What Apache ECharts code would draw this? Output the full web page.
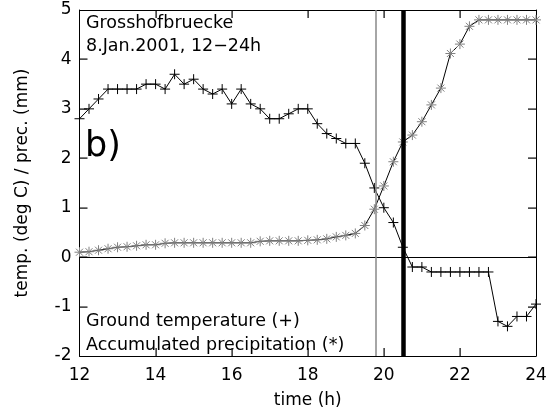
<!DOCTYPE html>
<html>
<head>
<meta charset="utf-8">
<script src="https://cdn.jsdelivr.net/npm/echarts@6/dist/echarts.min.js"></script>
<style>html,body{margin:0;padding:0;background:#fff;}#c{width:554px;height:414px;}</style>
</head>
<body>
<div id="c"></div>
<script>
var times = [12.00,12.25,12.50,12.75,13.00,13.25,13.50,13.75,14.00,14.25,14.50,14.75,15.00,15.25,15.50,15.75,16.00,16.25,16.50,16.75,17.00,17.25,17.50,17.75,18.00,18.25,18.50,18.75,19.00,19.25,19.50,19.75,20.00,20.25,20.50,20.75,21.00,21.25,21.50,21.75,22.00,22.25,22.50,22.75,23.00,23.25,23.50,23.75,24.00];
var groundTemp = [2.8,3.0,3.2,3.4,3.4,3.4,3.4,3.5,3.5,3.4,3.7,3.5,3.6,3.4,3.3,3.4,3.1,3.4,3.1,3.0,2.8,2.8,2.9,3.0,3.0,2.7,2.5,2.4,2.3,2.3,1.9,1.4,1.0,0.7,0.2,-0.2,-0.2,-0.3,-0.3,-0.3,-0.3,-0.3,-0.3,-0.3,-1.3,-1.4,-1.2,-1.2,-0.95];
var accPrecip = [0.10,0.11,0.14,0.17,0.20,0.21,0.23,0.25,0.25,0.28,0.29,0.29,0.29,0.29,0.29,0.29,0.29,0.29,0.29,0.32,0.33,0.33,0.33,0.33,0.34,0.35,0.37,0.41,0.44,0.48,0.64,0.97,1.44,1.93,2.33,2.47,2.74,3.08,3.42,4.12,4.31,4.67,4.80,4.80,4.80,4.80,4.80,4.80,4.80];
var xTicks = [12,14,16,18,20,22,24];
var yTicks = [-2,-1,0,1,2,3,4,5];
var thinLineX = 19.78;
var thickLineX = 20.5;

var FONT = 'DejaVu Sans';
var XMIN = xTicks[0], XMAX = xTicks[xTicks.length-1];
var YMIN = yTicks[0], YMAX = yTicks[yTicks.length-1];
var TICK = 8;
function pairs(v){ return times.map(function(t,i){ return [t, v[i]]; }); }
function aline(){ return {show:true, onZero:false, lineStyle:{color:'#000', width:1}}; }

var chart = echarts.init(document.getElementById('c'));
chart.setOption({
  animation:false,
  backgroundColor:'#fff',
  grid:{left:79.5, right:18, top:10, bottom:53, show:false},
  xAxis:[
    {type:'value', min:XMIN, max:XMAX, interval:2, position:'bottom',
     axisLine:aline(), axisTick:{show:false}, splitLine:{show:false},
     axisLabel:{color:'#000', fontFamily:FONT, fontSize:17, margin:11},
     name:'time (h)', nameLocation:'middle', nameGap:36, nameTextStyle:{color:'#000', fontFamily:FONT, fontSize:17}},
    {type:'value', min:XMIN, max:XMAX, interval:2, position:'top',
     axisLine:aline(), axisTick:{show:false}, splitLine:{show:false}, axisLabel:{show:false}}
  ],
  yAxis:[
    {type:'value', min:YMIN, max:YMAX, interval:1, position:'left',
     axisLine:aline(), axisTick:{show:false}, splitLine:{show:false},
     axisLabel:{color:'#000', fontFamily:FONT, fontSize:17, margin:8},
     name:'temp. (deg C) / prec. (mm)', nameLocation:'middle', nameRotate:90, nameGap:48,
     nameTextStyle:{color:'#000', fontFamily:FONT, fontSize:17}},
    {type:'value', min:YMIN, max:YMAX, interval:1, position:'right',
     axisLine:aline(), axisTick:{show:false}, splitLine:{show:false}, axisLabel:{show:false}}
  ],
  series:[
    {type:'custom', name:'xticks', silent:true, z:10, clip:false,
     encode:{x:0, y:1},
     data:xTicks.slice(1, -1).map(function(t){ return [t, YMIN]; }),
     renderItem:function(params, api){
       var b = api.coord([api.value(0), YMIN]);
       var t = api.coord([api.value(0), YMAX]);
       var x = Math.round(b[0]) - 0.5;
       return {type:'group', children:[
         {type:'rect', shape:{x:x, y:b[1]-TICK, width:1.2, height:TICK}, style:{fill:'#000'}},
         {type:'rect', shape:{x:x, y:t[1], width:1.2, height:TICK}, style:{fill:'#000'}}
       ]};
     }},
    {type:'custom', name:'yticks', silent:true, z:10, clip:false,
     encode:{x:0, y:1},
     data:yTicks.slice(1, -1).map(function(v){ return [XMIN, v]; }),
     renderItem:function(params, api){
       var l = api.coord([XMIN, api.value(1)]);
       var r = api.coord([XMAX, api.value(1)]);
       var y = Math.round(l[1]) - 0.5;
       return {type:'group', children:[
         {type:'rect', shape:{x:l[0], y:y, width:TICK, height:1.2}, style:{fill:'#000'}},
         {type:'rect', shape:{x:r[0]-TICK, y:y, width:TICK, height:1.2}, style:{fill:'#000'}}
       ]};
     }},
    {type:'line', name:'Accumulated precipitation', data:pairs(accPrecip), z:3,
     symbol:'path://M0,5L10,5M5,0L5,10M1.5,1.5L8.5,8.5M8.5,1.5L1.5,8.5', symbolSize:10,
     itemStyle:{color:'none', borderColor:'#808080', borderWidth:1},
     lineStyle:{color:'#000', width:1}},
    {type:'line', name:'Ground temperature', data:pairs(groundTemp), z:4,
     symbol:'path://M0,5L10,5M5,0L5,10', symbolSize:10,
     itemStyle:{color:'none', borderColor:'#000', borderWidth:1},
     lineStyle:{color:'#000', width:1},
     markLine:{silent:true, symbol:['none','none'], label:{show:false},
       data:[
         {yAxis:0, lineStyle:{color:'#000', width:1, type:'solid'}},
         {xAxis:thinLineX, lineStyle:{color:'#888', width:1.5, type:'solid'}},
         {xAxis:thickLineX, lineStyle:{color:'#000', width:4.5, type:'solid'}}
       ]}}
  ],
  graphic:[
    {type:'text', left:86, top:14, style:{text:'Grosshofbruecke', fill:'#000', font:'17.5px "DejaVu Sans"'}},
    {type:'text', left:86, top:37, style:{text:'8.Jan.2001, 12\u221224h', fill:'#000', font:'17.5px "DejaVu Sans"'}},
    {type:'text', left:85, top:129, style:{text:'b)', fill:'#000', font:'35px "DejaVu Sans"'}},
    {type:'text', left:86, top:312, style:{text:'Ground temperature (+)', fill:'#000', font:'17.5px "DejaVu Sans"'}},
    {type:'text', left:86, top:336, style:{text:'Accumulated precipitation (*)', fill:'#000', font:'17.5px "DejaVu Sans"'}}
  ]
});
</script>
</body>
</html>
